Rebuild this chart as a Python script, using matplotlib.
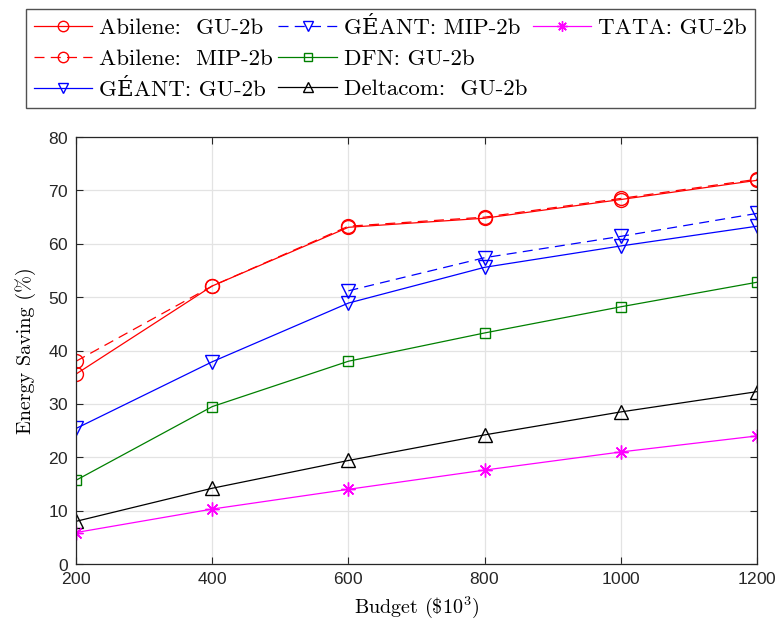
import numpy as np
import matplotlib.pyplot as plt
from matplotlib.lines import Line2D

plt.rcParams.update({
    "font.family": ["cmr10", "DejaVu Serif"],
    "mathtext.fontset": "cm",
    "axes.formatter.use_mathtext": True,
    "axes.unicode_minus": False,
})

budget = [200, 400, 600, 800, 1000, 1200]
abilene_gu = [35.6, 52.1, 63.1, 64.8, 68.3, 71.9]
abilene_mip = [38.0, 52.1, 63.3, 65.0, 68.5, 72.1]
geant_gu = [25.4, 37.9, 48.9, 55.6, 59.6, 63.3]
geant_mip_budget = [600, 800, 1000, 1200]
geant_mip = [51.2, 57.4, 61.4, 65.7]
dfn_gu = [15.7, 29.5, 38.0, 43.3, 48.2, 52.8]
deltacom_gu = [8.0, 14.2, 19.4, 24.2, 28.5, 32.3]
tata_gu = [5.9, 10.3, 14.0, 17.6, 21.0, 24.0]

fig = plt.figure(figsize=(7.76, 6.26), dpi=100)
ax = fig.add_axes([0.098, 0.099, 0.8775, 0.682])

dash = (0, (8, 5))
asterisk = (8, 2, 0)
ax.plot(budget, abilene_gu, color='#FF0000', lw=0.9, marker='o', ms=10,
        mfc='none', label='Abilene:  GU-2b')
ax.plot(budget, abilene_mip, color='#FF0000', lw=0.9, ls=dash,
        marker='o', ms=10, mfc='none', label='Abilene:  MIP-2b')
ax.plot(budget, geant_gu, color='#0000FF', lw=0.9, marker='v', ms=10,
        mfc='none', label='GÉANT: GU-2b')
ax.plot(geant_mip_budget, geant_mip, color='#0000FF', lw=0.9,
        ls=dash, marker='v', ms=10, mfc='none',
        label='GÉANT: MIP-2b')
ax.plot(budget, dfn_gu, color='#008000', lw=0.9, marker='s', ms=7,
        mfc='none', label='DFN: GU-2b')
ax.plot(budget, deltacom_gu, color='black', lw=0.9, marker='^', ms=10,
        mfc='none', label='Deltacom:  GU-2b')
ax.plot(budget, tata_gu, color='#FF00FF', lw=0.9, marker=asterisk, ms=10,
        mew=1.0, label='TATA: GU-2b')

ax.set_xlim(200, 1200)
ax.set_ylim(0, 80)
ax.set_xticks(budget)
ax.set_yticks(np.arange(0, 81, 10))
ax.grid(color='#E3E3E3', lw=0.9)
ax.set_axisbelow(True)
ax.tick_params(direction='in', top=True, right=True, length=5,
               width=0.8, color='#262626', labelsize=12.5, pad=5)
for lab in ax.get_xticklabels() + ax.get_yticklabels():
    lab.set_fontfamily('Liberation Sans')
    lab.set_color('#262626')
for s in ax.spines.values():
    s.set_color('#262626')
    s.set_linewidth(0.9)

ax.set_xlabel(r'Budget (\$$10^3$)', fontsize=14.5, labelpad=5)
ax.set_ylabel('Energy Saving (%)', fontsize=14.5, labelpad=9)

# pad the third legend column so entries fill column by column as 3/3/1
handles, labels = ax.get_legend_handles_labels()
blank = Line2D([], [], linestyle='none', marker='none')
handles += [blank, blank]
labels += ['', '']
fig.legend(handles, labels, loc='upper left', bbox_to_anchor=(0.033, 0.985),
           ncol=3, fontsize=16.5, frameon=True, fancybox=False,
           edgecolor='#262626', handlelength=2.55, columnspacing=0.25,
           handletextpad=0.3, labelspacing=0.44, borderpad=0.35,
           borderaxespad=0, markerscale=0.75)

fig.savefig('out.png')
